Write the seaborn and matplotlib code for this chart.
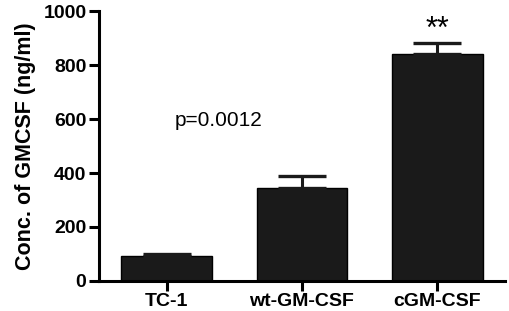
import matplotlib
matplotlib.use("Agg")
import matplotlib.pyplot as plt
import seaborn as sns
import pandas as pd

# values
groups = ["TC-1", "wt-GM-CSF", "cGM-CSF"]
conc = [91, 346, 842]
sem = [8, 42, 41]
y_ticks = [0, 200, 400, 600, 800, 1000]

df = pd.DataFrame({"group": groups, "conc": conc})

sns.set_style("ticks")
plt.rcParams["font.family"] = ["Liberation Sans", "DejaVu Sans"]
plt.rcParams["text.color"] = "black"
plt.rcParams["axes.labelcolor"] = "black"
plt.rcParams["xtick.color"] = "black"
plt.rcParams["ytick.color"] = "black"
plt.rcParams["axes.edgecolor"] = "black"

fig = plt.figure(figsize=(5.1, 3.11), dpi=100)
ax = fig.add_axes([0.194, 0.0965, 0.796, 0.868])

sns.barplot(data=df, x="group", y="conc", color="#1a1a1a", width=0.67,
            errorbar=None, saturation=1, edgecolor="black", linewidth=1, ax=ax)

# upper error bars only
ax.errorbar(range(len(groups)), conc, yerr=[[0] * len(sem), sem], fmt="none",
            ecolor="#1a1a1a", elinewidth=2.2, capsize=17, capthick=2.4, zorder=3)

ax.text(0.385, 596, "p=0.0012", ha="center", va="center", fontsize=15)
ax.text(2, 930, "**", ha="center", va="center", fontsize=22)

ax.set_xlim(-0.5, 2.5)
ax.set_ylim(0, 1000)
ax.set_yticks(y_ticks)
ax.set_xlabel("")
ax.set_ylabel("Conc. of GMCSF (ng/ml)", fontsize=15.5, fontweight="bold", labelpad=5)

for lbl in ax.get_xticklabels() + ax.get_yticklabels():
    lbl.set_fontweight("bold")
    lbl.set_fontsize(14)

sns.despine(ax=ax)
for s in ["left", "bottom"]:
    ax.spines[s].set_linewidth(2.2)
ax.tick_params(axis="both", width=2.2, length=7, pad=2)

fig.savefig("out.png", dpi=100)
